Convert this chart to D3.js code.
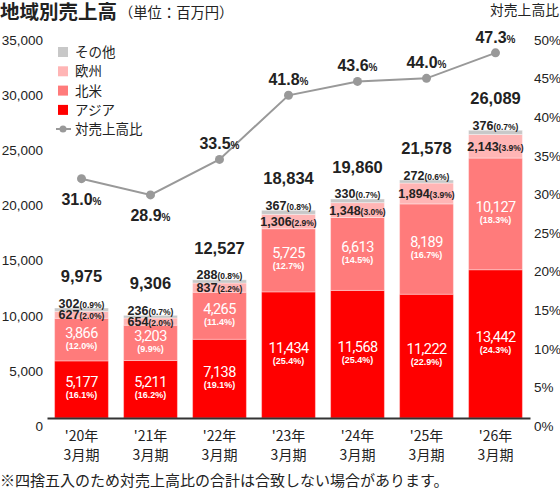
<!DOCTYPE html>
<html>
<head>
<meta charset="utf-8">
<script src="https://cdn.jsdelivr.net/npm/d3@7"></script>
<style>
  body { margin: 0; background: #fff; }
  svg text { fill: #222; }
  .jp { font-family: "Noto Sans CJK JP", sans-serif; }
  .num { font-family: "Liberation Sans", Arial, sans-serif; }
</style>
</head>
<body>
<div id="chart"></div>
<script>
// data (million yen)
let years = ["'20年", "'21年", "'22年", "'23年", "'24年", "'25年", "'26年"];
let asia = [5177, 5211, 7138, 11434, 11568, 11222, 13442];
let asiaPct = ["16.1", "16.2", "19.1", "25.4", "25.4", "22.9", "24.3"];
let northAmerica = [3866, 3203, 4265, 5725, 6613, 8189, 10127];
let northAmericaPct = ["12.0", "9.9", "11.4", "12.7", "14.5", "16.7", "18.3"];
let europe = [627, 654, 837, 1306, 1348, 1894, 2143];
let europePct = ["2.0", "2.0", "2.2", "2.9", "3.0", "3.9", "3.9"];
let other = [302, 236, 288, 367, 330, 272, 376];
let otherPct = ["0.9", "0.7", "0.8", "0.8", "0.7", "0.6", "0.7"];
let totals = [9975, 9306, 12527, 18834, 19860, 21578, 26089];
let ratio = [31.0, 28.9, 33.5, 41.8, 43.6, 44.0, 47.3];
let ratioLabelSide = ["below", "below", "above", "above", "above", "above", "above"];
let leftTicks = [0, 5000, 10000, 15000, 20000, 25000, 30000, 35000];
let rightTicks = [0, 5, 10, 15, 20, 25, 30, 35, 40, 45, 50];

let colors = { asia: "#ff0000", na: "#ff7b7b", eu: "#ffb5b5", other: "#c8c8c8", line: "#999999" };

let totalWidth = 560;
let totalHeight = 489;

var svg = d3.select("#chart").append("svg")
    .attr("width", totalWidth)
    .attr("height", totalHeight);

var x = d3.scaleBand().domain(years).range([47, 530]).paddingInner(0.22).paddingOuter(0.11);
var y = d3.scaleLinear().domain([0, 35000]).range([418, 32]);
var yr = d3.scaleLinear().domain([0, 50]).range([418, 32]);

// stacked segments
let keys = ["asia", "na", "eu", "other"];
let rows = years.map(function(yr_, i) {
    return { year: yr_, asia: asia[i], na: northAmerica[i], eu: europe[i], other: other[i] };
});
let stacked = d3.stack().keys(keys)(rows);

svg.append("g").selectAll("g")
    .data(stacked)
    .enter().append("g")
    .attr("fill", function(s) { return colors[s.key]; })
    .selectAll("rect")
    .data(function(s) { return s; })
    .enter().append("rect")
    .attr("x", function(d) { return x(d.data.year); })
    .attr("width", x.bandwidth())
    .attr("y", function(d) { return y(d[1]); })
    .attr("height", function(d) { return y(d[0]) - y(d[1]); })
    .attr("stroke", "#fff")
    .attr("stroke-opacity", 0.35)
    .attr("stroke-width", 1);

// white labels in asia / north america segments
function whiteLabel(layer, values, pcts) {
    layer.forEach(function(d, i) {
        let cx = x(years[i]) + x.bandwidth() / 2;
        let cy = (y(d[0]) + y(d[1])) / 2;
        svg.append("text")
            .attr("x", cx).attr("y", cy - 2)
            .attr("text-anchor", "middle")
            .style("fill", "#fff")
            .style("font-family", "Roboto, sans-serif")
            .style("font-size", "14.5px")
            .style("letter-spacing", "-0.6px")
            .text(d3.format(",")(values[i]));
        svg.append("text")
            .attr("class", "num")
            .attr("x", cx).attr("y", cy + 9)
            .attr("text-anchor", "middle")
            .style("fill", "#fff")
            .style("font-size", "9px")
            .style("font-weight", "bold")
            .text("(" + pcts[i] + "%)");
    });
}
whiteLabel(stacked[0], asia, asiaPct);
whiteLabel(stacked[1], northAmerica, northAmericaPct);

// small dark labels for europe and other, plus totals
function smallLabel(cx, cy, value, pct) {
    let t = svg.append("text")
        .attr("class", "num")
        .attr("x", cx).attr("y", cy + 4.5)
        .attr("text-anchor", "middle")
        .style("font-weight", "bold");
    t.append("tspan").style("font-size", "12.5px").text(d3.format(",")(value));
    t.append("tspan").style("font-size", "8.5px").text("(" + pct + "%)");
}
stacked[2].forEach(function(d, i) {
    let cx = x(years[i]) + x.bandwidth() / 2;
    let euCenter = (y(d[0]) + y(d[1])) / 2;
    let top = y(stacked[3][i][1]);
    smallLabel(cx, euCenter, europe[i], europePct[i]);
    smallLabel(cx, Math.min(top - 5, euCenter - 11.5), other[i], otherPct[i]);
    svg.append("text")
        .attr("class", "num")
        .attr("x", cx).attr("y", top - 26)
        .attr("text-anchor", "middle")
        .style("font-size", "16.5px")
        .style("font-weight", "bold")
        .text(d3.format(",")(totals[i]));
});

// left axis
var leftAxis = svg.append("g")
    .attr("transform", "translate(47,0)")
    .call(d3.axisLeft(y).tickValues(leftTicks).tickFormat(d3.format(",")).tickSize(0).tickPadding(4));
leftAxis.select(".domain").remove();
leftAxis.selectAll("text").attr("y", 8).attr("class", "num").style("font-size", "13.5px").style("fill", "#222");

// right axis
var rightAxis = svg.append("g")
    .attr("transform", "translate(530,0)")
    .call(d3.axisRight(yr).tickValues(rightTicks).tickFormat(function(d) { return d + "%"; }).tickSize(0).tickPadding(4));
rightAxis.select(".domain").remove();
rightAxis.selectAll("text").attr("y", 8).attr("class", "num").style("font-size", "13.5px").style("fill", "#222");

// bottom axis
var bottomAxis = svg.append("g")
    .attr("transform", "translate(0,418)")
    .call(d3.axisBottom(x).tickSize(0).tickSizeOuter(0).tickPadding(0).tickFormat(""));
bottomAxis.select(".domain").attr("stroke", "#333").attr("stroke-width", 2);
bottomAxis.selectAll(".tick").each(function(d) {
    let t = d3.select(this).append("text")
        .attr("class", "jp")
        .attr("text-anchor", "middle")
        .style("font-size", "14px")
        .style("fill", "#222");
    t.append("tspan").attr("x", 0).attr("y", 23).text(d);
    t.append("tspan").attr("x", 0).attr("y", 42).text("3月期");
});

// ratio line
let pts = ratio.map(function(v, i) { return [x(years[i]) + x.bandwidth() / 2, yr(v)]; });
svg.append("path")
    .datum(pts)
    .attr("fill", "none")
    .attr("stroke", colors.line)
    .attr("stroke-width", 2)
    .attr("d", d3.line());
svg.selectAll("circle.pt")
    .data(pts)
    .enter().append("circle")
    .attr("class", "pt")
    .attr("cx", function(d) { return d[0]; })
    .attr("cy", function(d) { return d[1]; })
    .attr("r", 4.5)
    .attr("fill", colors.line);
pts.forEach(function(p, i) {
    let cy = ratioLabelSide[i] == "below" ? p[1] + 20 : p[1] - 16;
    let t = svg.append("text")
        .attr("class", "num")
        .attr("x", p[0]).attr("y", cy + 6)
        .attr("text-anchor", "middle")
        .style("font-weight", "bold");
    t.append("tspan").style("font-size", "16px").text(ratio[i].toFixed(1));
    t.append("tspan").style("font-size", "10px").text("%");
});

// legend
let legendItems = [["その他", colors.other], ["欧州", colors.eu], ["北米", colors.na], ["アジア", colors.asia]];
legendItems.forEach(function(item, i) {
    let ly = 52 + i * 19.3;
    svg.append("rect").attr("x", 58).attr("y", ly - 5).attr("width", 10).attr("height", 10).attr("fill", item[1]);
    svg.append("text").attr("class", "jp").attr("x", 75).attr("y", ly + 5)
        .style("font-size", "13.5px").text(item[0]);
});
svg.append("line").attr("x1", 56).attr("x2", 71).attr("y1", 129).attr("y2", 129)
    .attr("stroke", colors.line).attr("stroke-width", 2);
svg.append("circle").attr("cx", 63).attr("cy", 129).attr("r", 3.5).attr("fill", colors.line);
svg.append("text").attr("class", "jp").attr("x", 75).attr("y", 134)
    .style("font-size", "13.5px").text("対売上高比");

// titles and note
svg.append("text").attr("class", "jp").attr("x", 0).attr("y", 19)
    .style("font-size", "19.5px").style("font-weight", "bold").text("地域別売上高");
svg.append("text").attr("class", "jp").attr("x", 119).attr("y", 17.5)
    .style("font-size", "14.3px").text("（単位：百万円）");
svg.append("text").attr("class", "jp").attr("x", 559).attr("y", 14.5)
    .attr("text-anchor", "end")
    .style("font-size", "13.8px").text("対売上高比");
svg.append("text").attr("class", "jp").attr("x", 0).attr("y", 486)
    .style("font-size", "15px").text("※四捨五入のため対売上高比の合計は合致しない場合があります。");
</script>
</body>
</html>
